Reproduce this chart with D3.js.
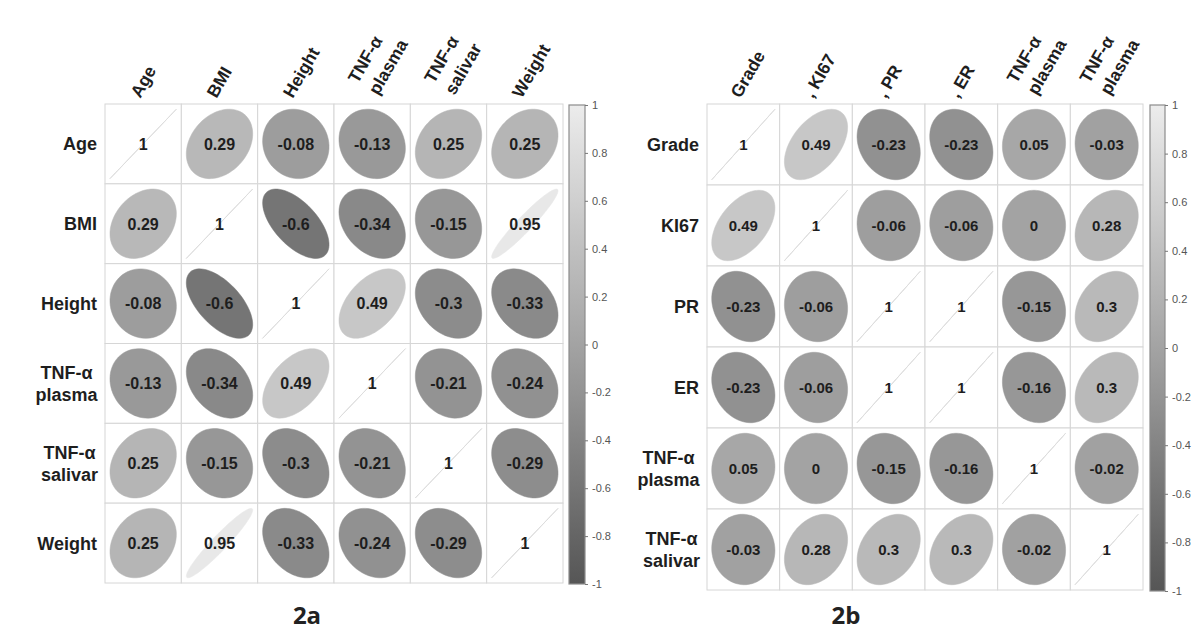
<!DOCTYPE html>
<html>
<head>
<meta charset="utf-8">
<script src="https://cdn.jsdelivr.net/npm/d3@7"></script>
<style>
  body { margin: 0; background: #fff; }
  svg { display: block; }
</style>
</head>
<body>
<svg width="1192" height="634"></svg>
<script>
(function (d3) {

  // ---- data ----
  const leftRows = ['Age', 'BMI', 'Height', 'TNF-α\nplasma', 'TNF-α\nsalivar', 'Weight'];
  const leftCols = ['Age', 'BMI', 'Height', 'TNF-α\nplasma', 'TNF-α\nsalivar', 'Weight'];
  const leftValues = [
    [1, 0.29, -0.08, -0.13, 0.25, 0.25],
    [0.29, 1, -0.6, -0.34, -0.15, 0.95],
    [-0.08, -0.6, 1, 0.49, -0.3, -0.33],
    [-0.13, -0.34, 0.49, 1, -0.21, -0.24],
    [0.25, -0.15, -0.3, -0.21, 1, -0.29],
    [0.25, 0.95, -0.33, -0.24, -0.29, 1]
  ];

  const rightRows = ['Grade', 'KI67', 'PR', 'ER', 'TNF-α\nplasma', 'TNF-α\nsalivar'];
  const rightCols = ['Grade', ', KI67', ', PR', ', ER', 'TNF-α\nplasma', 'TNF-α\nplasma'];
  const rightValues = [
    [1, 0.49, -0.23, -0.23, 0.05, -0.03],
    [0.49, 1, -0.06, -0.06, 0, 0.28],
    [-0.23, -0.06, 1, 1, -0.15, 0.3],
    [-0.23, -0.06, 1, 1, -0.16, 0.3],
    [0.05, 0, -0.15, -0.16, 1, -0.02],
    [-0.03, 0.28, 0.3, 0.3, -0.02, 1]
  ];

  const legendTicks = [1, 0.8, 0.6, 0.4, 0.2, 0, -0.2, -0.4, -0.6, -0.8, -1];
  const panelTitles = ['2a', '2b'];

  const svg = d3.select('svg');
  const font = '"Liberation Sans", Arial, sans-serif';

  const colorScale = d3.scaleLinear()
    .domain([-1, 0, 1])
    .range(['#565656', '#a3a3a3', '#ececec']);

  const gradient = svg.append('defs').append('linearGradient')
      .attr('id', 'corr-grad')
      .attr('x1', 0).attr('y1', 0).attr('x2', 0).attr('y2', 1);
  gradient.selectAll('stop').data(d3.range(0, 1.0001, 0.1))
    .enter().append('stop')
      .attr('offset', d => d)
      .attr('stop-color', d => colorScale(1 - 2 * d));

  // corrplot style ellipse in a unit box
  const ellipsePath = (r, cx, cy, rx, ry) => {
    const dd = Math.acos(Math.max(-1, Math.min(1, r)));
    const pts = d3.range(0, 73).map(i => {
      const t = i / 72 * 2 * Math.PI;
      return [cx + rx * Math.cos(t + dd / 2), cy - ry * Math.cos(t - dd / 2)];
    });
    return d3.line()(pts) + 'Z';
  };

  const corrPanel = (selection, props) => {
    const {
      rows, cols, values, x0, x1, y0, y1,
      barX, barW, barY0, barY1,
      numSize, rowLabelSize, colLabelSize, multiShift
    } = props;

    const xScale = d3.scaleBand().domain(d3.range(cols.length)).range([x0, x1]);
    const yScale = d3.scaleBand().domain(d3.range(rows.length)).range([y0, y1]);
    const bw = xScale.bandwidth();
    const bh = yScale.bandwidth();

    const cells = [];
    values.forEach((row, i) => row.forEach((v, j) => cells.push({ i, j, v })));

    const g = selection.append('g');

    g.selectAll('rect.cell').data(cells)
      .enter().append('rect')
        .attr('class', 'cell')
        .attr('x', d => xScale(d.j))
        .attr('y', d => yScale(d.i))
        .attr('width', bw)
        .attr('height', bh)
        .attr('fill', '#fff')
        .attr('stroke', '#d6d6d6')
        .attr('stroke-width', 1);

    g.selectAll('path.ell').data(cells)
      .enter().append('path')
        .attr('class', 'ell')
        .attr('d', d => ellipsePath(d.v,
          xScale(d.j) + bw / 2, yScale(d.i) + bh / 2, bw * 0.435, bh * 0.435))
        .attr('fill', d => colorScale(d.v))
        .attr('stroke', d => d.v >= 1 ? '#dddddd' : colorScale(d.v))
        .attr('stroke-width', d => d.v >= 1 ? 1 : 0.5);

    g.selectAll('text.num').data(cells)
      .enter().append('text')
        .attr('class', 'num')
        .attr('x', d => xScale(d.j) + bw / 2)
        .attr('y', d => yScale(d.i) + bh / 2)
        .attr('dy', '0.36em')
        .attr('text-anchor', 'middle')
        .style('font', `bold ${numSize}px ${font}`)
        .attr('fill', '#1e1e1e')
        .text(d => String(d.v));

    // row labels
    rows.forEach((lab, i) => {
      const lines = lab.split('\n');
      const cy = yScale(i) + bh / 2;
      const t = g.append('text')
        .style('font', `bold ${rowLabelSize}px ${font}`)
        .attr('fill', '#1e1e1e');
      if (lines.length === 1) {
        t.attr('x', x0 - 8).attr('y', cy).attr('dy', '0.36em')
          .attr('text-anchor', 'end').text(lab);
      } else {
        t.attr('text-anchor', 'middle');
        lines.forEach((ln, k) => {
          t.append('tspan')
            .attr('x', 0)
            .attr('y', cy + (k - (lines.length - 1) / 2) * rowLabelSize * 1.2)
            .attr('dy', '0.36em')
            .text(ln);
        });
        const w = t.node().getBBox().width;
        t.selectAll('tspan').attr('x', x0 - 7 - w / 2);
      }
    });

    // column labels, rotated
    cols.forEach((lab, j) => {
      const lines = lab.split('\n');
      const cx = xScale(j) + bw / 2;
      const ax = lines.length === 1 ? cx - 3 : cx + multiShift;
      const ay = lines.length === 1 ? y0 - 5 : y0 - 8;
      const t = g.append('text')
        .attr('transform', `translate(${ax},${ay}) rotate(-60)`)
        .style('font', `bold ${colLabelSize}px ${font}`)
        .attr('fill', '#1e1e1e');
      lines.forEach((ln, k) => {
        t.append('tspan')
          .attr('x', 0)
          .attr('y', (k - (lines.length - 1)) * colLabelSize * 1.35)
          .text(ln);
      });
    });

    // color legend
    g.append('rect')
      .attr('x', barX).attr('y', barY0)
      .attr('width', barW).attr('height', barY1 - barY0)
      .attr('fill', 'url(#corr-grad)')
      .attr('stroke', '#8c8c8c')
      .attr('stroke-width', 1.2);

    const legendScale = d3.scaleLinear().domain([-1, 1]).range([barY1, barY0]);
    const axis = d3.axisRight(legendScale)
      .tickValues(legendTicks)
      .tickSize(3)
      .tickPadding(4)
      .tickFormat(d => String(+d.toFixed(1)));
    const axG = g.append('g')
      .attr('transform', `translate(${barX + barW},0)`)
      .call(axis);
    axG.select('.domain').remove();
    axG.selectAll('line').attr('stroke', '#777');
    axG.selectAll('text')
      .style('font', `11px ${font}`)
      .attr('fill', '#555');
  };

  svg.call(corrPanel, {
    rows: leftRows, cols: leftCols, values: leftValues,
    x0: 105, x1: 563, y0: 104, y1: 583,
    barX: 569, barW: 16, barY0: 105, barY1: 584,
    numSize: 16, rowLabelSize: 18, colLabelSize: 17.5, multiShift: 6
  });

  svg.call(corrPanel, {
    rows: rightRows, cols: rightCols, values: rightValues,
    x0: 707, x1: 1143, y0: 104, y1: 590,
    barX: 1150, barW: 15, barY0: 105, barY1: 591,
    numSize: 15, rowLabelSize: 18, colLabelSize: 17.5, multiShift: 3
  });

  svg.selectAll('text.title').data(panelTitles)
    .enter().append('text')
      .attr('class', 'title')
      .attr('x', (d, i) => i === 0 ? 307 : 846)
      .attr('y', 624)
      .attr('text-anchor', 'middle')
      .style('font', 'bold 24px "Open Sans", sans-serif')
      .attr('fill', '#222')
      .text(d => d);

}(d3));
</script>
</body>
</html>
